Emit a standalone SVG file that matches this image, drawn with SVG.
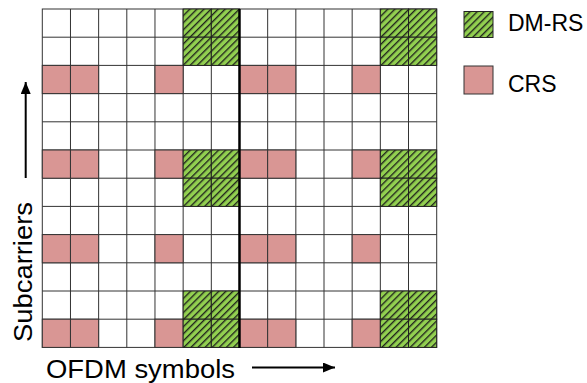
<svg xmlns="http://www.w3.org/2000/svg" width="587" height="383" viewBox="0 0 587 383">
<defs>
<pattern id="hatch" patternUnits="userSpaceOnUse" width="5" height="5" patternTransform="rotate(45)">
<rect x="0" y="0" width="5" height="5" fill="#92D050"/>
<line x1="0.7" y1="0" x2="0.7" y2="5" stroke="#1a1a1a" stroke-width="1.3"/>
</pattern>
<marker id="ah" viewBox="0 0 12 10" refX="12" refY="5" markerWidth="12" markerHeight="10" markerUnits="userSpaceOnUse" orient="auto">
<path d="M0,0 L12,5 L0,10 Z" fill="#000"/>
</marker>
</defs>
<style>
.w{fill:#fff;stroke:#333;stroke-width:1}
.c{fill:#D99694;stroke:#333;stroke-width:1}
.d{fill:url(#hatch);stroke:#222;stroke-width:1}
.t{font-family:"Liberation Sans",Arial,sans-serif;fill:#000}
</style>
<rect width="587" height="383" fill="#fff"/>
<g id="grid">
<g id="base" class="w">
<rect x="42.3" y="9" width="394.4" height="338.4"/>
</g>
<g id="gridlines" stroke="#333" stroke-width="1">
<line x1="70.47" y1="9" x2="70.47" y2="347.4"/>
<line x1="98.64" y1="9" x2="98.64" y2="347.4"/>
<line x1="126.81" y1="9" x2="126.81" y2="347.4"/>
<line x1="154.98" y1="9" x2="154.98" y2="347.4"/>
<line x1="183.15" y1="9" x2="183.15" y2="347.4"/>
<line x1="211.32" y1="9" x2="211.32" y2="347.4"/>
<line x1="267.66" y1="9" x2="267.66" y2="347.4"/>
<line x1="295.83" y1="9" x2="295.83" y2="347.4"/>
<line x1="324" y1="9" x2="324" y2="347.4"/>
<line x1="352.17" y1="9" x2="352.17" y2="347.4"/>
<line x1="380.34" y1="9" x2="380.34" y2="347.4"/>
<line x1="408.51" y1="9" x2="408.51" y2="347.4"/>
<line x1="42.3" y1="37.2" x2="436.7" y2="37.2"/>
<line x1="42.3" y1="65.4" x2="436.7" y2="65.4"/>
<line x1="42.3" y1="93.6" x2="436.7" y2="93.6"/>
<line x1="42.3" y1="121.8" x2="436.7" y2="121.8"/>
<line x1="42.3" y1="150" x2="436.7" y2="150"/>
<line x1="42.3" y1="178.2" x2="436.7" y2="178.2"/>
<line x1="42.3" y1="206.4" x2="436.7" y2="206.4"/>
<line x1="42.3" y1="234.6" x2="436.7" y2="234.6"/>
<line x1="42.3" y1="262.8" x2="436.7" y2="262.8"/>
<line x1="42.3" y1="291" x2="436.7" y2="291"/>
<line x1="42.3" y1="319.2" x2="436.7" y2="319.2"/>
</g>
<g id="crs" class="c">
<rect x="42.3" y="65.4" width="28.17" height="28.2"/>
<rect x="70.47" y="65.4" width="28.17" height="28.2"/>
<rect x="154.98" y="65.4" width="28.17" height="28.2"/>
<rect x="239.49" y="65.4" width="28.17" height="28.2"/>
<rect x="267.66" y="65.4" width="28.17" height="28.2"/>
<rect x="352.17" y="65.4" width="28.17" height="28.2"/>
<rect x="42.3" y="150" width="28.17" height="28.2"/>
<rect x="70.47" y="150" width="28.17" height="28.2"/>
<rect x="154.98" y="150" width="28.17" height="28.2"/>
<rect x="239.49" y="150" width="28.17" height="28.2"/>
<rect x="267.66" y="150" width="28.17" height="28.2"/>
<rect x="352.17" y="150" width="28.17" height="28.2"/>
<rect x="42.3" y="234.6" width="28.17" height="28.2"/>
<rect x="70.47" y="234.6" width="28.17" height="28.2"/>
<rect x="154.98" y="234.6" width="28.17" height="28.2"/>
<rect x="239.49" y="234.6" width="28.17" height="28.2"/>
<rect x="267.66" y="234.6" width="28.17" height="28.2"/>
<rect x="352.17" y="234.6" width="28.17" height="28.2"/>
<rect x="42.3" y="319.2" width="28.17" height="28.2"/>
<rect x="70.47" y="319.2" width="28.17" height="28.2"/>
<rect x="154.98" y="319.2" width="28.17" height="28.2"/>
<rect x="239.49" y="319.2" width="28.17" height="28.2"/>
<rect x="267.66" y="319.2" width="28.17" height="28.2"/>
<rect x="352.17" y="319.2" width="28.17" height="28.2"/>
</g>
<g id="dmrs" class="d">
<rect x="183.15" y="9" width="28.17" height="28.2"/>
<rect x="211.32" y="9" width="28.17" height="28.2"/>
<rect x="183.15" y="37.2" width="28.17" height="28.2"/>
<rect x="211.32" y="37.2" width="28.17" height="28.2"/>
<rect x="380.34" y="9" width="28.17" height="28.2"/>
<rect x="408.51" y="9" width="28.17" height="28.2"/>
<rect x="380.34" y="37.2" width="28.17" height="28.2"/>
<rect x="408.51" y="37.2" width="28.17" height="28.2"/>
<rect x="183.15" y="150" width="28.17" height="28.2"/>
<rect x="211.32" y="150" width="28.17" height="28.2"/>
<rect x="183.15" y="178.2" width="28.17" height="28.2"/>
<rect x="211.32" y="178.2" width="28.17" height="28.2"/>
<rect x="380.34" y="150" width="28.17" height="28.2"/>
<rect x="408.51" y="150" width="28.17" height="28.2"/>
<rect x="380.34" y="178.2" width="28.17" height="28.2"/>
<rect x="408.51" y="178.2" width="28.17" height="28.2"/>
<rect x="183.15" y="291" width="28.17" height="28.2"/>
<rect x="211.32" y="291" width="28.17" height="28.2"/>
<rect x="183.15" y="319.2" width="28.17" height="28.2"/>
<rect x="211.32" y="319.2" width="28.17" height="28.2"/>
<rect x="380.34" y="291" width="28.17" height="28.2"/>
<rect x="408.51" y="291" width="28.17" height="28.2"/>
<rect x="380.34" y="319.2" width="28.17" height="28.2"/>
<rect x="408.51" y="319.2" width="28.17" height="28.2"/>
</g>
<line id="slot-boundary" x1="239.49" y1="9" x2="239.49" y2="348" stroke="#000" stroke-width="2.5"/>
</g>
<g id="legend-dmrs">
<rect class="d" x="464" y="11.5" width="29" height="26"/>
<text class="t" x="508" y="31" font-size="23">DM-RS</text>
</g>
<g id="legend-crs">
<rect class="c" x="464" y="66" width="29" height="28"/>
<text class="t" x="508" y="92" font-size="23">CRS</text>
</g>
<g id="connectors">
<line x1="252" y1="367.5" x2="335" y2="367.5" stroke="#000" stroke-width="2" marker-end="url(#ah)"/>
<line x1="25.7" y1="178" x2="25.7" y2="82" stroke="#000" stroke-width="2" marker-end="url(#ah)"/>
</g>
<text class="t" x="46" y="378.3" font-size="26" textLength="189" lengthAdjust="spacingAndGlyphs">OFDM symbols</text>
<text class="t" transform="translate(32,342) rotate(-90)" font-size="26" textLength="140" lengthAdjust="spacingAndGlyphs">Subcarriers</text>
</svg>
